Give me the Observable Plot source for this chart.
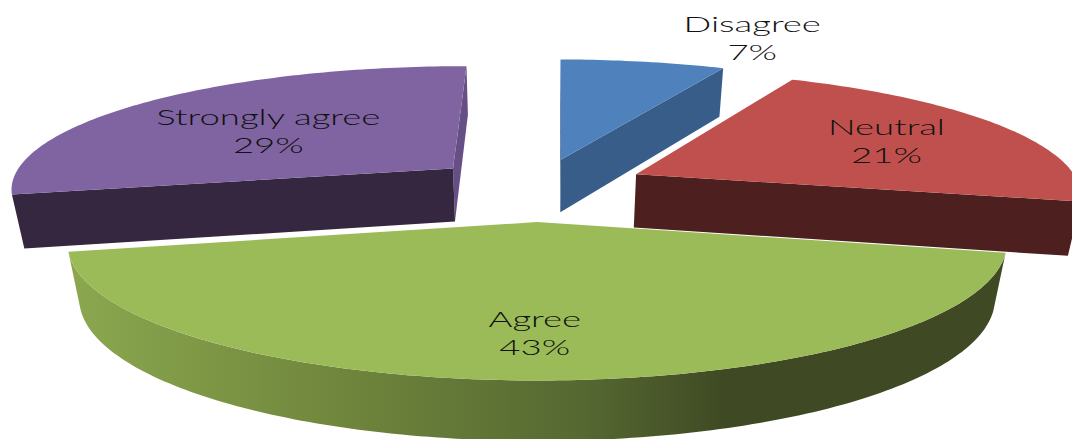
<!DOCTYPE html>
<html>
<head>
<meta charset="utf-8">
<script src="https://cdn.jsdelivr.net/npm/d3@7"></script>
<script src="https://cdn.jsdelivr.net/npm/@observablehq/plot@0.6"></script>
<style>
  html, body { margin: 0; padding: 0; background: #fff; }
  svg { display: block; }
</style>
</head>
<body>
<div id="chart"></div>
<script>
// Survey responses, clockwise from twelve o'clock
const categories = ["Disagree", "Neutral", "Agree", "Strongly agree"];
const percents = [7, 21, 43, 29];
const topColors = ["#4f81bd", "#c0504d", "#9bbb59", "#8064a2"];
const wallColors = ["#375d88", "#4d1f1e", "url(#rimShade)", "#35273f"];
const sideColors = ["#2f4f74", "#4d1f1e", "#9bbb59", "#664f85"];
const explode = [0.24, 0.25, 0.27, 0.25];
const labelRadius = [1.29, 0.69, 0.74, 0.57];
const labelShiftX = [89, -6, -1, -6];
const labelShiftY = [2, 2, 0, 4];

// Camera settings for the tilted, exploded disc
const W = 1072, H = 439;
const view = {cx: 537, cy: 187, fx: 445, fy: 123, depth: 55, k: 0.15, m: 0.024};
const rad = d => d * Math.PI / 180;

// Small angular lean that the tilted view gives the slice edges
const lean = a => a + 0.4 + 1.3 * (1 - Math.cos(rad(a)));

// Perspective projection of a point on the pie (X right, Y back, Z down)
function project(X, Y, Z = 0) {
  const s = 1 + view.k * Y + view.m * Z;
  return {
    x: view.cx + view.fx * X / s,
    y: view.cy + (-view.fy * Y + view.depth * Z) / s
  };
}

// Slice angles in degrees from the shares
let running = 0;
const slices = categories.map((name, i) => {
  const a0 = lean(running * 3.6);
  running += percents[i];
  const a1 = lean(running * 3.6);
  const mid = rad((a0 + a1) / 2);
  return {name, i, a0, a1, mid, ox: explode[i] * Math.sin(mid), oy: explode[i] * Math.cos(mid)};
});

const rimAt = (s, a, Z) => project(s.ox + Math.sin(rad(a)), s.oy + Math.cos(rad(a)), Z);
const rim = (s, Z) => d3.range(s.a0, s.a1, 1).concat(s.a1).map(a => rimAt(s, a, Z));
const apex = (s, Z) => project(s.ox, s.oy, Z);

const face = (pts, fill) =>
  Plot.line(pts, {x: "x", y: "y", fill, stroke: "none", curve: "linear-closed"});

// Flat cut wall running from the centre to the rim at angle a
const cutWall = (s, a, fill) => face(
  [apex(s, 0), rimAt(s, a, 0), rimAt(s, a, 1), apex(s, 1)], fill);

// Drawn back to front: each slice's walls first, its top face after them
const [disagree, neutral, agree, strongly] = slices;
const pieces = [
  cutWall(strongly, strongly.a1, sideColors[3]),
  cutWall(strongly, strongly.a0, wallColors[3]),
  face(rim(strongly, 0).concat(apex(strongly, 0)), topColors[3]),

  cutWall(disagree, disagree.a0, sideColors[0]),
  cutWall(disagree, disagree.a1, wallColors[0]),
  face(rim(disagree, 0).concat(apex(disagree, 0)), topColors[0]),

  cutWall(neutral, neutral.a1, wallColors[1]),
  face(rim(neutral, 0).concat(apex(neutral, 0)), topColors[1]),

  face(rim(agree, 0).concat(rim(agree, 1).reverse()), wallColors[2]),
  face(rim(agree, 0).concat(apex(agree, 0)), topColors[2])
];

// Label rows: category name above, share below
const labels = slices.flatMap(s => {
  const r = labelRadius[s.i];
  const p = project(s.ox + r * Math.sin(s.mid), s.oy + r * Math.cos(s.mid));
  const x = p.x + labelShiftX[s.i];
  const y = p.y + labelShiftY[s.i];
  return [
    {x, y: y - 14, text: s.name},
    {x, y: y + 14, text: percents[s.i] + "%"}
  ];
});

// Horizontal shading of the outer rim
const gradient = () => {
  const defs = d3.create("svg:defs");
  const g = defs.append("linearGradient").attr("id", "rimShade")
    .attr("x1", 0).attr("x2", 1).attr("y1", 0).attr("y2", 0);
  [[0, "#8ba84f"], [0.3, "#6f853c"], [0.55, "#556831"], [0.7, "#3f4a24"], [1, "#3f4a24"]]
    .forEach(([o, c]) => g.append("stop").attr("offset", o).attr("stop-color", c));
  return defs.node();
};

const chart = Plot.plot({
  width: W,
  height: H,
  margin: 0,
  x: {domain: [0, W], range: [0, W], axis: null},
  y: {domain: [0, H], range: [0, H], axis: null},
  style: {background: "#fff"},
  marks: [
    gradient,
    ...pieces,
    Plot.text(labels, {
      x: "x", y: "y", text: "text",
      fontFamily: "Lato",
      fontSize: 21,
      fontWeight: 300,
      fill: "#111",
      textAnchor: "middle",
      lineAnchor: "middle"
    })
  ]
});
document.getElementById("chart").append(chart);

// The labels run wide, so stretch each one along its baseline
chart.querySelectorAll("text").forEach(t => {
  t.setAttribute("textLength", t.getComputedTextLength() * 1.74);
  t.setAttribute("lengthAdjust", "spacingAndGlyphs");
});
</script>
</body>
</html>
